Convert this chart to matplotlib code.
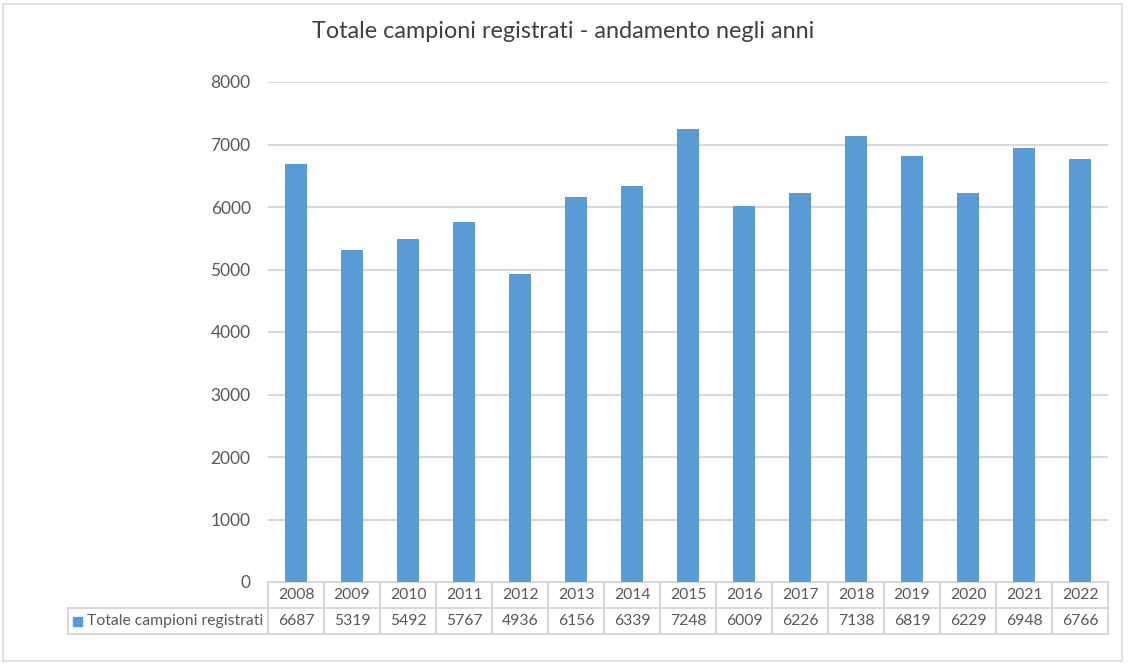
import numpy as np
import matplotlib
matplotlib.use('Agg')
import matplotlib.pyplot as plt
from matplotlib import transforms
from matplotlib.patches import Rectangle

plt.rcParams['font.family'] = ['Lato', 'DejaVu Sans']

years = ['2008', '2009', '2010', '2011', '2012', '2013', '2014', '2015',
         '2016', '2017', '2018', '2019', '2020', '2021', '2022']
totals = [6687, 5319, 5492, 5767, 4936, 6156, 6339, 7248,
          6009, 6226, 7138, 6819, 6229, 6948, 6766]
series_name = 'Totale campioni registrati'
title = 'Totale campioni registrati - andamento negli anni'

bar_color = '#5b9bd5'
grid_color = '#d9d9d9'
text_color = '#595959'

W, H = 1128, 665
fig = plt.figure(figsize=(W / 100, H / 100), dpi=100)

# frame around the whole chart
fig.patches.append(Rectangle((3 / W, 4 / H), 1119 / W, 657 / H, transform=fig.transFigure,
                             fill=False, ec=grid_color, lw=1.2))

ax_left, ax_right, ax_top, ax_bot = 268, 1108, 82, 582
ax = fig.add_axes([ax_left / W, (H - ax_bot) / H, (ax_right - ax_left) / W, (ax_bot - ax_top) / H])

x = np.arange(len(years))
ax.bar(x, totals, width=0.4, color=bar_color, zorder=3)
ax.set_xlim(-0.5, len(years) - 0.5)
ax.set_ylim(0, 8000)
ax.set_yticks(np.arange(0, 8001, 1000))
ax.yaxis.grid(True, color=grid_color, lw=1.5, zorder=0)
ax.tick_params(axis='y', length=0, pad=12.5, labelsize=12.5, labelcolor=text_color)
ax.set_xticks([])
for s in ['top', 'right', 'left']:
    ax.spines[s].set_visible(False)
ax.spines['bottom'].set_color(grid_color)
ax.spines['bottom'].set_linewidth(1.5)

fig.text(563 / W, 1 - 32 / H, title, ha='center', va='center', fontsize=16.8, color='#404040')

# data table under the axis
trans = transforms.blended_transform_factory(ax.transData, ax.transAxes)
plot_h = ax_bot - ax_top
row_h = 26 / plot_h
cat_w = (ax_right - ax_left) / len(years)
leg_left = -0.5 - (ax_left - 68) / cat_w
lkw = dict(color=grid_color, lw=1.5, transform=trans, clip_on=False)

ax.plot([leg_left, len(years) - 0.5], [-row_h, -row_h], **lkw)
ax.plot([leg_left, len(years) - 0.5], [-2 * row_h, -2 * row_h], **lkw)
ax.plot([leg_left, leg_left], [-row_h, -2 * row_h], **lkw)
for i in range(len(years) + 1):
    ax.plot([i - 0.5, i - 0.5], [0, -2 * row_h], **lkw)

for i, (yr, v) in enumerate(zip(years, totals)):
    ax.text(i, -0.5 * row_h, yr, ha='center', va='center', fontsize=11.3, color=text_color,
            transform=trans)
    ax.text(i, -1.5 * row_h, str(v), ha='center', va='center', fontsize=11.3, color=text_color,
            transform=trans)

sq = 9 / cat_w
ax.add_patch(Rectangle((leg_left + 5 / cat_w, -1.5 * row_h - 4.5 / plot_h), sq, 9 / plot_h,
                       transform=trans, color=bar_color, clip_on=False))
ax.text(leg_left + 19 / cat_w, -1.5 * row_h, series_name, ha='left', va='center',
        fontsize=11.3, color=text_color, transform=trans)

fig.savefig('out.png', dpi=100)
